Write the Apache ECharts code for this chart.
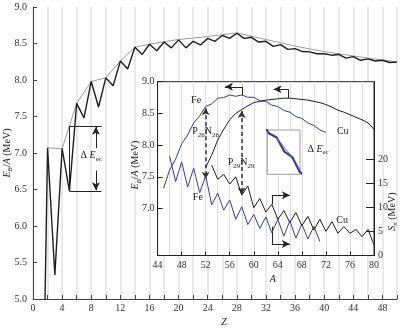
<!DOCTYPE html>
<html>
<head>
<meta charset="utf-8">
<script src="https://cdn.jsdelivr.net/npm/echarts@6/dist/echarts.min.js"></script>
<style>
  html, body { margin: 0; padding: 0; background: #fff; }
  #chart { width: 401px; height: 330px; }
</style>
</head>
<body>
<div id="chart"></div>
<script>
// ── main panel: binding energy per nucleon of N = Z nuclei ──
const mainZ = [1, 2, 3, 4, 5, 6, 7, 8, 9, 10, 11, 12, 13, 14, 15, 16, 17, 18, 19, 20,
  21, 22, 23, 24, 25, 26, 27, 28, 29, 30, 31, 32, 33, 34, 35, 36, 37, 38, 39, 40,
  41, 42, 43, 44, 45, 46, 47, 48, 49, 50];
const mainEb = [1.11, 7.07, 5.33, 7.06, 6.48, 7.68, 7.48, 7.98, 7.63, 8.03,
  7.92, 8.26, 8.15, 8.45, 8.35, 8.49, 8.40, 8.52, 8.44, 8.55,
  8.44, 8.53, 8.48, 8.57, 8.53, 8.61, 8.57, 8.64, 8.57, 8.585,
  8.52, 8.53, 8.46, 8.485, 8.42, 8.43, 8.39, 8.385, 8.36, 8.36,
  8.34, 8.35, 8.30, 8.32, 8.27, 8.29, 8.26, 8.27, 8.24, 8.245];
// smooth (even-Z) reference line
const envZ = [2, 4, 6, 8, 10, 12, 14, 16, 18, 20, 22, 24, 26, 28, 30, 32, 34, 36, 38, 40, 42, 44, 46, 48, 50];
const envEb = [7.07, 7.06, 7.68, 7.98, 8.03, 8.26, 8.45, 8.49, 8.525, 8.555, 8.575, 8.595, 8.62,
  8.645, 8.60, 8.555, 8.51, 8.465, 8.425, 8.39, 8.36, 8.33, 8.30, 8.275, 8.25];

// ── inset: Fe and Cu isotopes ──
const feA = [45, 46, 47, 48, 49, 50, 51, 52, 53, 54, 55, 56, 57, 58, 59, 60, 61, 62, 63, 64, 65, 66, 67, 68, 69, 70, 71, 72];
const feEb = [7.32, 7.61, 7.78, 8.02, 8.16, 8.35, 8.46, 8.61, 8.65, 8.74, 8.75, 8.79, 8.77, 8.79,
  8.755, 8.755, 8.70, 8.69, 8.63, 8.61, 8.545, 8.52, 8.45, 8.42, 8.35, 8.31, 8.24, 8.20];
const cuA = [52, 53, 54, 55, 56, 57, 58, 59, 60, 61, 62, 63, 64, 65, 66, 67, 68, 69, 70, 71, 72, 73, 74, 75, 76, 77, 78, 79, 80];
const cuEb = [7.65, 7.84, 8.08, 8.25, 8.40, 8.50, 8.56, 8.62, 8.67, 8.69, 8.71, 8.72, 8.73, 8.74,
  8.74, 8.73, 8.72, 8.71, 8.69, 8.67, 8.64, 8.60, 8.55, 8.52, 8.48, 8.44, 8.40, 8.35, 8.25];
const feSnA = [46, 47, 48, 49, 50, 51, 52, 53, 54, 55, 56, 57, 58, 59, 60, 61, 62, 63, 64, 65, 66, 67, 68, 69, 70, 71];
const feSn = [20.6, 15.3, 19.4, 14.2, 18.1, 13.0, 16.5, 10.5, 12.9, 9.4, 11.5, 7.5, 10.1, 6.4,
  8.5, 5.6, 8.0, 4.7, 7.5, 4.0, 7.2, 3.6, 6.5, 3.4, 6.0, 2.9];
const cuSnA = [53, 54, 55, 56, 57, 58, 59, 60, 61, 62, 63, 64, 65, 66, 67, 68, 69, 70, 71, 72, 73, 74, 75, 76, 77, 78, 79, 80];
const cuSn = [18.7, 15.8, 16.8, 14.8, 16.3, 12.5, 14.4, 9.9, 11.8, 9.0, 10.6, 7.5, 9.3, 6.8,
  8.9, 6.2, 8.1, 5.3, 7.5, 5.0, 7.0, 4.6, 6.0, 4.6, 5.4, 3.9, 5.4, 2.2];

// magnified detail: straight line between neighbouring even-A Fe values
const detailEvenA = [64, 66];

// tick labels
const insetLeftTicks = [7.0, 7.5, 8.0, 8.5, 9.0];
const insetRightTicks = [0, 5, 10, 15, 20];

const FONT = "Liberation Serif";
const BLUE = "#3a3a9c";
const INK = "#1e1e1e";

const pairs = (xs, ys) => xs.map((x, i) => [x, ys[i]]);
const feAt = (a) => feEb[feA.indexOf(a)];

const subRich = {
  i: { fontFamily: FONT, fontStyle: "italic", fontSize: 10, lineHeight: 14, color: "#222" },
  n: { fontFamily: FONT, fontSize: 10, lineHeight: 14, color: "#222" },
  s: { fontFamily: FONT, fontStyle: "italic", fontSize: 7, lineHeight: 14, verticalAlign: "bottom", color: "#222" },
  u: { fontFamily: FONT, fontSize: 7, lineHeight: 14, verticalAlign: "bottom", color: "#222" },
};

function textMark(coord, text) {
  return {
    coord,
    symbol: "circle",
    symbolSize: 0,
    label: { show: true, position: "inside", formatter: text, rich: subRich, fontFamily: FONT, fontSize: 10, color: "#222" },
  };
}

// segment helpers for markLine
const seg = (a, b) => [{ coord: a, symbol: "none" }, { coord: b, symbol: "none" }];
const arrow = (a, b) => [{ coord: a, symbol: "none" }, { coord: b, symbol: "arrow" }];
const dblArrow = (a, b) => [{ coord: a, symbol: "arrow" }, { coord: b, symbol: "arrow" }];

const thinLine = { color: "#222", width: 1, type: "solid" };
const markLineBase = { silent: true, animation: false, symbolSize: [6, 8], label: { show: false } };

const tickLabel = { fontFamily: FONT, fontSize: 10, color: "#333" };

const chart = echarts.init(document.getElementById("chart"), null, { renderer: "canvas" });

chart.setOption({
  animation: false,
  backgroundColor: "#fff",
  textStyle: { fontFamily: FONT },
  grid: [
    { left: 33, top: 7, width: 364, height: 292, outerBoundsMode: "none", containLabel: false },
    { left: 157.6, top: 81.7, width: 216.4, height: 173.8, show: true, backgroundColor: "#fff",
      borderColor: "#222", borderWidth: 1, z: 3, outerBoundsMode: "none", containLabel: false },
    { left: 267.3, top: 130, width: 32.7, height: 44.3, show: true, backgroundColor: "#fff",
      borderColor: "#9a9a9a", borderWidth: 1, z: 6, outerBoundsMode: "none", containLabel: false },
  ],
  xAxis: [
    {
      gridIndex: 0, type: "value", min: 0, max: 50, interval: 2,
      name: "Z", nameLocation: "middle", nameGap: 18, nameMoveOverlap: false,
      nameTextStyle: { fontFamily: FONT, fontStyle: "italic", fontSize: 10, color: "#222", padding: [0, 0, 0, 18] },
      axisLine: { lineStyle: { color: "#444", width: 1 } },
      axisTick: { inside: true, length: 4, lineStyle: { color: "#444" } },
      axisLabel: { ...tickLabel, margin: 4, formatter: (v) => (v % 4 === 0 ? String(v) : "") },
      splitLine: { show: true, lineStyle: { color: "#e3e3e3", width: 1.5 } },
    },
    {
      gridIndex: 1, type: "value", min: 44, max: 80, interval: 4, z: 4,
      name: "A", nameLocation: "middle", nameGap: 19, nameMoveOverlap: false,
      nameTextStyle: { fontFamily: FONT, fontStyle: "italic", fontSize: 10, color: "#222", padding: [0, 0, 0, 14] },
      axisLine: { show: true, lineStyle: { color: "#222", width: 1 } },
      axisTick: { inside: true, length: 4, lineStyle: { color: "#222" } },
      axisLabel: { ...tickLabel, margin: 5 },
      minorTick: { show: false, splitNumber: 2 },
      splitLine: { show: true, lineStyle: { color: "#dedede", width: 1 } },
      minorSplitLine: { show: true, lineStyle: { color: "#dedede", width: 1 } },
    },
    {
      gridIndex: 2, type: "value", min: 62.8, max: 67.0, show: false, z: 7,
      splitLine: { show: false },
    },
  ],
  yAxis: [
    {
      gridIndex: 0, type: "value", min: 5, max: 9, interval: 0.5,
      name: "{i|E}{s|B}{n|/}{i|A}{n| (MeV)}", nameLocation: "middle", nameGap: 19, nameMoveOverlap: false,
      nameTextStyle: { rich: subRich },
      axisLine: { show: true, lineStyle: { color: "#444", width: 1 } },
      axisTick: { show: true, inside: true, length: 4, lineStyle: { color: "#444" } },
      axisLabel: { ...tickLabel, margin: 6, formatter: (v) => v.toFixed(1) },
      splitLine: { show: false },
    },
    {
      gridIndex: 1, type: "value", min: 6.26, max: 9, position: "left", z: 4,
      name: "{i|E}{s|B}{n|/}{i|A}{n| (MeV)}", nameLocation: "middle", nameGap: 15, nameMoveOverlap: false,
      nameTextStyle: { rich: subRich, padding: [0, 0, 0, 7] },
      axisLine: { show: true, lineStyle: { color: "#222", width: 1 } },
      axisTick: { show: true, inside: true, length: 5, customValues: insetLeftTicks, lineStyle: { color: "#222" } },
      axisLabel: { ...tickLabel, margin: 3, customValues: insetLeftTicks, formatter: (v) => v.toFixed(1) },
      splitLine: { show: false },
    },
    {
      gridIndex: 1, type: "value", min: 0, max: 36, position: "right", z: 4,
      name: "{i|S}{s|n}{n| (MeV)}", nameLocation: "middle", nameGap: 11, nameMoveOverlap: false,
      nameTextStyle: { rich: subRich, padding: [0, 86, 0, 0] },
      axisLine: { show: true, lineStyle: { color: "#222", width: 1 } },
      axisTick: { show: true, inside: true, length: 8, customValues: insetRightTicks, lineStyle: { color: "#222" } },
      axisLabel: { ...tickLabel, margin: 4, customValues: insetRightTicks },
      splitLine: { show: false },
    },
    {
      gridIndex: 2, type: "value", min: 8.44, max: 8.645, show: false, z: 7,
      splitLine: { show: false },
    },
  ],
  series: [
    // main zig-zag
    {
      type: "line", xAxisIndex: 0, yAxisIndex: 0, z: 2,
      data: pairs(mainZ, mainEb),
      showSymbol: false, symbol: "none",
      lineStyle: { color: INK, width: 1.4 },
      markLine: {
        ...markLineBase,
        lineStyle: thinLine,
        data: [
          seg([5, 7.37], [9.4, 7.37]),
          seg([5, 6.48], [9.4, 6.48]),
          seg([5, 6.48], [5, 7.37]),
          arrow([8.64, 7.07], [8.64, 7.36]),
          arrow([8.64, 6.76], [8.64, 6.49]),
        ],
      },
      markPoint: { silent: true, animation: false, data: [textMark([8.0, 6.97], "{n|Δ }{i|E}{u|ec}")] },
    },
    // smooth reference
    {
      type: "line", xAxisIndex: 0, yAxisIndex: 0, z: 1,
      data: pairs(envZ, envEb),
      showSymbol: false, symbol: "none",
      lineStyle: { color: "#9c9c9c", width: 1 },
    },
    // inset: Fe binding energy
    {
      type: "line", xAxisIndex: 1, yAxisIndex: 1, z: 5,
      data: pairs(feA, feEb),
      showSymbol: false, symbol: "none",
      lineStyle: { color: BLUE, width: 1 },
      markArea: {
        silent: true, animation: false,
        itemStyle: { color: "rgba(0,0,0,0)", borderColor: "#9a9a9a", borderWidth: 1 },
        data: [[{ coord: [63.6, 8.605] }, { coord: [66.6, 8.474] }]],
      },
      markLine: {
        ...markLineBase,
        lineStyle: thinLine,
        data: [
          seg([58.05, 8.79], [58.05, 8.92]),
          arrow([58.05, 8.92], [55.2, 8.92]),
          seg([65.8, 8.74], [65.8, 8.88]),
          arrow([65.8, 8.88], [63.3, 8.88]),
        ],
      },
      markPoint: {
        silent: true, animation: false,
        data: [
          textMark([50.4, 8.70], "{n|Fe}"),
          textMark([52.0, 8.21], "{n|P}{u|26}{n|N}{u|26}"),
          textMark([57.9, 7.73], "{n|P}{u|29}{n|N}{u|29}"),
          textMark([50.7, 7.17], "{n|Fe}"),
          textMark([74.8, 8.21], "{n|Cu}"),
          textMark([74.7, 6.82], "{n|Cu}"),
          textMark([70.7, 7.94], "{n|Δ }{i|E}{u|ec}"),
        ],
      },
    },
    // inset: Cu binding energy (carries the dashed double arrows)
    {
      type: "line", xAxisIndex: 1, yAxisIndex: 1, z: 5,
      data: pairs(cuA, cuEb),
      showSymbol: false, symbol: "none",
      lineStyle: { color: INK, width: 1 },
      markLine: {
        ...markLineBase,
        symbolSize: [6, 7],
        lineStyle: { color: "#333", width: 1.5, type: [4, 3] },
        data: [
          dblArrow([52, 8.58], [52, 7.47]),
          dblArrow([58, 8.54], [58, 7.22]),
        ],
      },
    },
    // inset: Fe neutron separation energy
    {
      type: "line", xAxisIndex: 1, yAxisIndex: 2, z: 5,
      data: pairs(feSnA, feSn),
      showSymbol: false, symbol: "none",
      lineStyle: { color: BLUE, width: 1 },
      markLine: {
        ...markLineBase,
        lineStyle: thinLine,
        data: [
          seg([63, 6.0], [63, 2.4]),
          arrow([63, 2.4], [66, 2.4]),
        ],
      },
    },
    // inset: Cu neutron separation energy
    {
      type: "line", xAxisIndex: 1, yAxisIndex: 2, z: 5,
      data: pairs(cuSnA, cuSn),
      showSymbol: false, symbol: "none",
      lineStyle: { color: INK, width: 1 },
      markLine: {
        ...markLineBase,
        lineStyle: thinLine,
        data: [
          seg([63, 10.6], [63, 12.5]),
          arrow([63, 12.5], [66, 12.5]),
        ],
      },
    },
    // detail box: grid lines
    {
      type: "line", xAxisIndex: 2, yAxisIndex: 3, z: 8, data: [],
      markLine: {
        ...markLineBase,
        data: [
          [{ coord: [64, 8.44], symbol: "none", lineStyle: { color: "#d6d6d6", width: 1 } }, { coord: [64, 8.645], symbol: "none" }],
          [{ coord: [66, 8.44], symbol: "none", lineStyle: { color: "#d6d6d6", width: 1 } }, { coord: [66, 8.645], symbol: "none" }],
          [{ coord: [65, 8.44], symbol: "none", lineStyle: { color: "#777", width: 1, type: [1, 2] } }, { coord: [65, 8.6], symbol: "none" }],
        ],
      },
    },
    // detail box: Fe line magnified
    {
      type: "line", xAxisIndex: 2, yAxisIndex: 3, z: 8,
      data: pairs(feA, feEb),
      showSymbol: false, symbol: "none",
      lineStyle: { color: BLUE, width: 2.2 },
    },
    // detail box: straight line between even-A neighbours
    {
      type: "line", xAxisIndex: 2, yAxisIndex: 3, z: 8,
      data: detailEvenA.map((a) => [a, feAt(a)]),
      showSymbol: false, symbol: "none",
      lineStyle: { color: "#8a8a8a", width: 1 },
    },
    // detail box: Delta E_ec leader lines (not clipped to the box)
    {
      type: "line", xAxisIndex: 2, yAxisIndex: 3, z: 8, data: [], clip: false,
      markLine: {
        ...markLineBase,
        lineStyle: { color: "#555", width: 1 },
        data: [
          seg([65, (feAt(64) + feAt(66)) / 2], [67.9, (feAt(64) + feAt(66)) / 2]),
          seg([65, feAt(65)], [67.9, feAt(65)]),
        ],
      },
    },
  ],
});
</script>
</body>
</html>
